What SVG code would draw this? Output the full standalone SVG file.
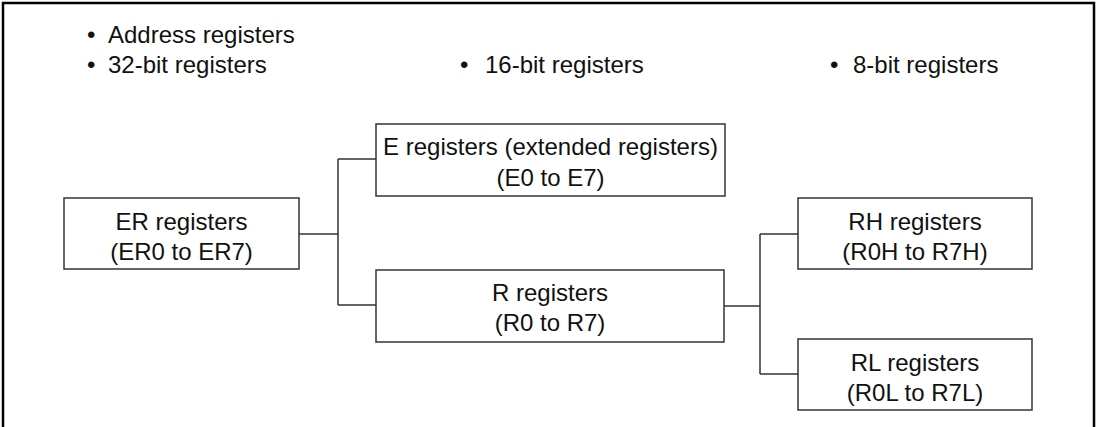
<svg xmlns="http://www.w3.org/2000/svg" width="1097" height="427" viewBox="0 0 1097 427">
<style>
text{font-family:"Liberation Sans",Arial,sans-serif;font-size:24px;fill:#111}
.c{text-anchor:middle}
.box{fill:#fff;stroke:#333;stroke-width:1.5}
.ln{fill:none;stroke:#333;stroke-width:1.5}
</style>
<rect x="3" y="3" width="1091" height="440" fill="none" stroke="#000" stroke-width="2.5"/>
<g id="headers">
<text x="87" y="43">•</text><text x="108" y="43">Address registers</text>
<text x="87" y="73">•</text><text x="108" y="73">32-bit registers</text>
<text x="460" y="73">•</text><text x="485" y="73">16-bit registers</text>
<text x="830" y="73">•</text><text x="853" y="73">8-bit registers</text>
</g>
<g id="connectors">
<path class="ln" d="M299 234H338M338 159V305M338 159H376M338 305H376"/>
<path class="ln" d="M724 306H760M760 234V374M760 234H798M760 374H798"/>
</g>
<g id="er">
<rect class="box" x="64" y="198" width="235" height="71"/>
<text class="c" x="181.5" y="229.5">ER registers</text>
<text class="c" x="181.5" y="260">(ER0 to ER7)</text>
</g>
<g id="e">
<rect class="box" x="376" y="124" width="349" height="72"/>
<text class="c" x="550.5" y="155">E registers (extended registers)</text>
<text class="c" x="550.5" y="185.5">(E0 to E7)</text>
</g>
<g id="r">
<rect class="box" x="376" y="270" width="348" height="72"/>
<text class="c" x="550" y="301">R registers</text>
<text class="c" x="550" y="331">(R0 to R7)</text>
</g>
<g id="rh">
<rect class="box" x="798" y="198" width="234" height="71"/>
<text class="c" x="915" y="229.5">RH registers</text>
<text class="c" x="915" y="259.5">(R0H to R7H)</text>
</g>
<g id="rl">
<rect class="box" x="798" y="339" width="234" height="71"/>
<text class="c" x="915" y="370.5">RL registers</text>
<text class="c" x="915" y="400.5">(R0L to R7L)</text>
</g>
</svg>
